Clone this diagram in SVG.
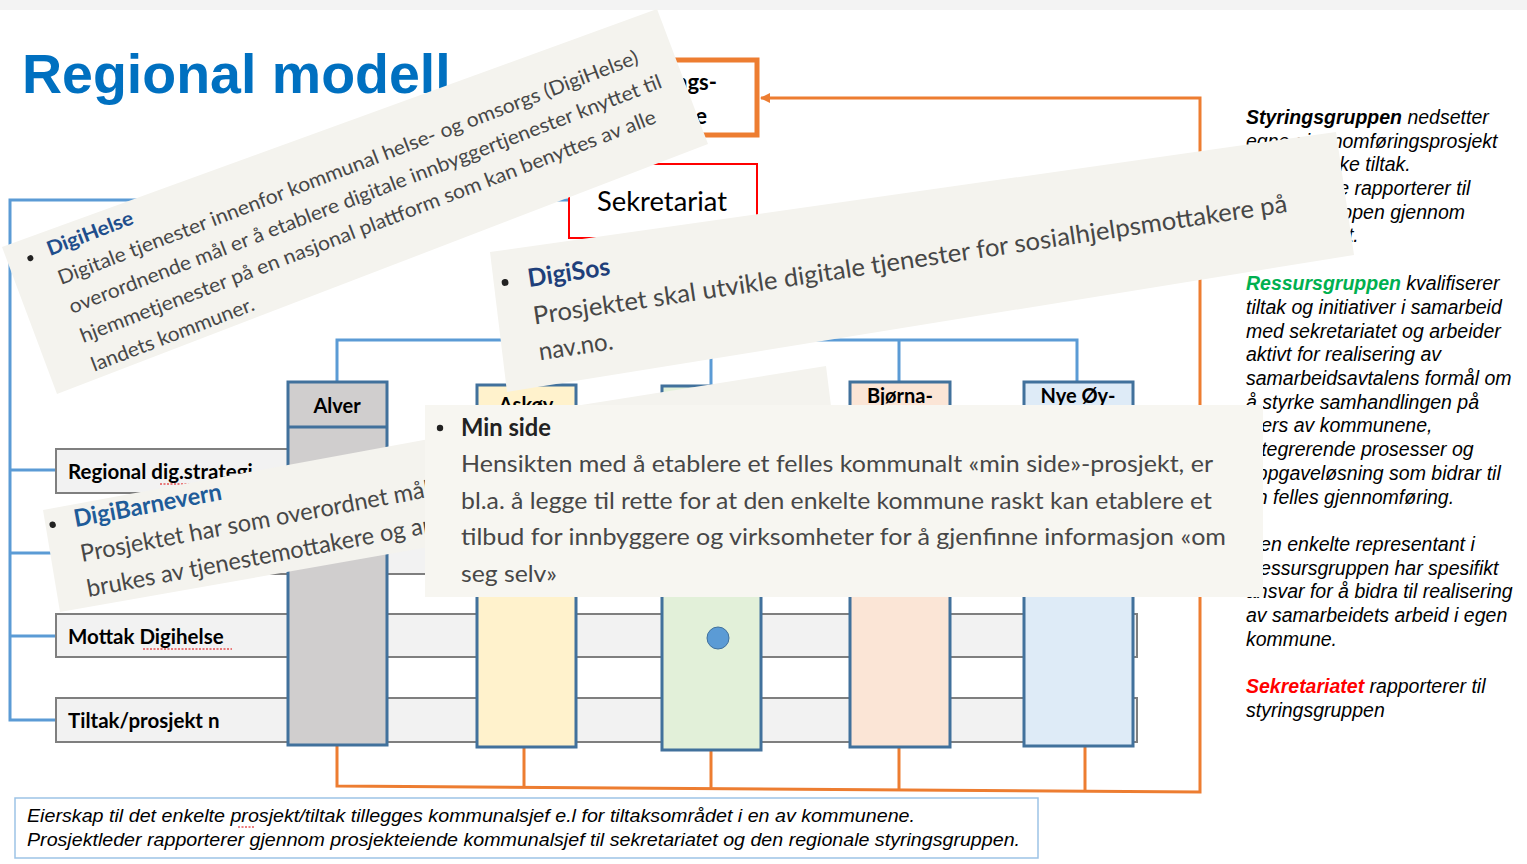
<svg xmlns="http://www.w3.org/2000/svg" width="1527" height="864" viewBox="0 0 1527 864">
<defs>
<style>
.lato{font-family:Lato,"Open Sans","DejaVu Sans",sans-serif}
.ar{font-family:"Liberation Sans",Arial,sans-serif}
.row{fill:#F2F2F2;stroke:#7F7F7F;stroke-width:2}
.col{stroke:#41719C;stroke-width:3}
.rowlbl{font-family:Lato,"Open Sans",sans-serif;font-weight:700;font-size:20.5px;fill:#000}
.collbl{font-family:Lato,"Open Sans",sans-serif;font-weight:700;font-size:20px;fill:#000;text-anchor:middle}
.blue{fill:none;stroke:#5B9BD5;stroke-width:3}
.orange{fill:none;stroke:#ED7D31;stroke-width:3}
.callout{fill:#F4F3EE}
.cbody{font-family:Lato,"Open Sans",sans-serif;fill:#474747}
.chead{font-family:Lato,"Open Sans",sans-serif;font-weight:700}
.rt{font-family:"Liberation Sans",Arial,sans-serif;font-style:italic;font-size:19.5px;fill:#000}
.sq{stroke:#E00000;stroke-width:1.2;stroke-dasharray:2 1.5;fill:none}
</style>
<marker id="arrowO" markerWidth="10" markerHeight="10" refX="9" refY="5" orient="auto" markerUnits="userSpaceOnUse">
<path d="M0,0 L10,5 L0,10 Z" fill="#ED7D31"/>
</marker>
<clipPath id="clipTop"><rect x="0" y="0" width="1527" height="405"/></clipPath>
</defs>
<rect x="0" y="0" width="1527" height="864" fill="#FFFFFF"/>
<rect x="0" y="0" width="1527" height="10" fill="#F3F3F3"/>

<text id="title" x="22" y="93" class="ar" font-weight="700" font-size="55.5" fill="#0070C0">Regional modell</text>

<g id="connectors">
<polyline class="blue" points="568,200 10,200 10,720 56,720"/>
<line class="blue" x1="10" y1="470" x2="56" y2="470"/>
<line class="blue" x1="10" y1="553" x2="56" y2="553"/>
<line class="blue" x1="10" y1="636" x2="56" y2="636"/>
<line class="blue" x1="662" y1="238" x2="662" y2="340"/>
<polyline class="blue" points="337,382 337,340 1077,340 1077,382"/>
<line class="blue" x1="524" y1="340" x2="524" y2="385"/>
<line class="blue" x1="711" y1="340" x2="711" y2="386"/>
<line class="blue" x1="899" y1="340" x2="899" y2="382"/>
<polyline class="orange" points="337,745 337,786 1200,792 1200,98 761,98" marker-end="url(#arrowO)"/>
<line class="orange" x1="524" y1="747" x2="524" y2="787"/>
<line class="orange" x1="711" y1="750" x2="711" y2="788"/>
<line class="orange" x1="899" y1="747" x2="899" y2="789"/>
<line class="orange" x1="1085" y1="746" x2="1085" y2="791"/>
</g>

<g id="styringsgruppe">
<rect x="582" y="60" width="175" height="75" fill="#FFFFFF" stroke="#ED7D31" stroke-width="5"/>
<text class="lato" font-weight="700" font-size="22" text-anchor="end" x="717" y="90">Styrings-</text>
<text class="lato" font-weight="700" font-size="22" text-anchor="end" x="707" y="124">gruppe</text>
</g>

<g id="sekretariat">
<rect x="569" y="164" width="188" height="74" fill="#FFFFFF" stroke="#FF0000" stroke-width="2"/>
<text class="lato" font-size="27" x="597" y="211" textLength="130" lengthAdjust="spacingAndGlyphs">Sekretariat</text>
</g>

<g id="row-regional">
<rect class="row" x="56" y="449" width="1081" height="44"/>
<text class="rowlbl" x="68" y="479">Regional dig.strategi</text>
<line class="sq" x1="160" y1="484" x2="196" y2="484"/>
</g>
<g id="row-2">
<rect class="row" x="56" y="532" width="1081" height="42"/>
</g>
<g id="row-mottak">
<rect class="row" x="56" y="614" width="1081" height="43"/>
<text class="rowlbl" x="68" y="644">Mottak Digihelse</text>
<line class="sq" x1="143" y1="649" x2="232" y2="649"/>
</g>
<g id="row-tiltak">
<rect class="row" x="56" y="698" width="1081" height="44"/>
<text class="rowlbl" x="68" y="728">Tiltak/prosjekt n</text>
</g>

<g id="col-alver">
<rect class="col" x="288" y="382" width="99" height="363" fill="#D0CECE"/>
<line class="col" x1="288" y1="427" x2="387" y2="427"/>
<text class="collbl" x="337" y="413">Alver</text>
</g>
<g id="col-askoy">
<rect class="col" x="477" y="385" width="99" height="362" fill="#FFF2CC"/>
<text class="collbl" x="526" y="412" clip-path="url(#clipTop)">Askøy</text>
</g>
<g id="col-green">
<rect class="col" x="662" y="386" width="99" height="364" fill="#E2F0D9"/>
<circle cx="718" cy="638" r="11" fill="#5B9BD5" stroke="#41719C" stroke-width="1"/>
</g>
<g id="col-bjorna">
<rect class="col" x="850" y="382" width="100" height="365" fill="#FBE5D6"/>
<text class="collbl" x="900" y="403">Bjørna-</text>
<line class="sq" x1="866" y1="406" x2="935" y2="406"/>
</g>
<g id="col-nyeoy">
<rect class="col" x="1024" y="382" width="109" height="364" fill="#DEEBF7"/>
<text class="collbl" x="1078" y="403">Nye Øy-</text>
</g>

<g id="right-text">
<text class="rt" x="1246" y="124"><tspan font-weight="700">Styringsgruppen</tspan> nedsetter</text>
<text class="rt" x="1246" y="148">egne gjennomføringsprosjekt</text>
<text class="rt" x="1246" y="171">for spesifikke tiltak.</text>
<text class="rt" x="1246" y="195">Prosjektene rapporterer til</text>
<text class="rt" x="1246" y="219">styringsgruppen gjennom</text>
<text class="rt" x="1246" y="242">sekretariatet.</text>
<text class="rt" x="1246" y="290"><tspan font-weight="700" fill="#00B050">Ressursgruppen</tspan> kvalifiserer</text>
<text class="rt" x="1246" y="314">tiltak og initiativer i samarbeid</text>
<text class="rt" x="1246" y="338">med sekretariatet og arbeider</text>
<text class="rt" x="1246" y="361">aktivt for realisering av</text>
<text class="rt" x="1246" y="385">samarbeidsavtalens formål om</text>
<text class="rt" x="1246" y="409">å styrke samhandlingen på</text>
<text class="rt" x="1246" y="432">tvers av kommunene,</text>
<text class="rt" x="1246" y="456">integrerende prosesser og</text>
<text class="rt" x="1246" y="480">oppgaveløsning som bidrar til</text>
<text class="rt" x="1246" y="504">en felles gjennomføring.</text>
<text class="rt" x="1246" y="551">Den enkelte representant i</text>
<text class="rt" x="1246" y="575">Ressursgruppen har spesifikt</text>
<text class="rt" x="1246" y="598">ansvar for å bidra til realisering</text>
<text class="rt" x="1246" y="622">av samarbeidets arbeid i egen</text>
<text class="rt" x="1246" y="646">kommune.</text>
<text class="rt" x="1246" y="693"><tspan font-weight="700" fill="#FF0000">Sekretariatet</tspan> rapporterer til</text>
<text class="rt" x="1246" y="717">styringsgruppen</text>
</g>

<g id="note">
<rect x="15" y="798" width="1023" height="60" fill="#FFFFFF" stroke="#9DC3E6" stroke-width="1.5"/>
<text class="ar" font-style="italic" font-size="19" x="27" y="822" textLength="888" lengthAdjust="spacingAndGlyphs">Eierskap til det enkelte prosjekt/tiltak tillegges kommunalsjef e.l for tiltaksområdet i en av kommunene.</text>
<text class="ar" font-style="italic" font-size="19" x="27" y="846" textLength="993" lengthAdjust="spacingAndGlyphs">Prosjektleder rapporterer gjennom prosjekteiende kommunalsjef til sekretariatet og den regionale styringsgruppen.</text>
<line class="sq" x1="238" y1="827" x2="254" y2="827"/>
</g>

<g id="callout-digibarnevern">
<polygon class="callout" points="43,510 440,437 440,545 60,612"/>
<g transform="translate(82,562) rotate(-10.6)">
<circle cx="-22" cy="-42" r="3.2" fill="#222"/>
<text class="chead" font-size="24" fill="#1F5C99" x="0" y="-35.5" textLength="150" lengthAdjust="spacingAndGlyphs">DigiBarnevern</text>
<text class="cbody" font-size="24" x="0" y="0" textLength="355" lengthAdjust="spacingAndGlyphs">Prosjektet har som overordnet mål</text>
<text class="cbody" font-size="24" x="0" y="35.5" textLength="388" lengthAdjust="spacingAndGlyphs">brukes av tjenestemottakere og andre</text>
</g>
</g>

<g id="callout-hidden">
<polygon class="callout" points="575,406 826,366 831,406"/>
</g>

<g id="callout-digisos">
<polygon class="callout" points="490,252 1336,132 1354,255 507,392"/>
<g transform="translate(529,287) rotate(-8.5)">
<circle cx="-23" cy="-8" r="3.4" fill="#222"/>
<text class="chead" font-size="25" fill="#1F3F7A" x="0" y="0" textLength="83" lengthAdjust="spacingAndGlyphs">DigiSos</text>
<text class="cbody" font-size="25" x="0" y="38" textLength="762" lengthAdjust="spacingAndGlyphs">Prosjektet skal utvikle digitale tjenester for sosialhjelpsmottakere på</text>
<text class="cbody" font-size="25" x="0" y="74" textLength="75" lengthAdjust="spacingAndGlyphs">nav.no.</text>
</g>
</g>

<g id="callout-digihelse">
<polygon class="callout" points="2,247 657,9 708,144 57,394"/>
<g transform="translate(61,285) rotate(-21)">
<circle cx="-19" cy="-36" r="3" fill="#222"/>
<text class="chead" font-size="20" fill="#1F4E8C" x="0" y="-31" textLength="91" lengthAdjust="spacingAndGlyphs">DigiHelse</text>
<text class="cbody" font-size="20" x="0" y="0" textLength="620" lengthAdjust="spacingAndGlyphs">Digitale tjenester innenfor kommunal helse- og omsorgs (DigiHelse)</text>
<text class="cbody" font-size="20" x="0" y="31" textLength="633" lengthAdjust="spacingAndGlyphs">overordnende mål er å etablere digitale innbyggertjenester knyttet til</text>
<text class="cbody" font-size="20" x="0" y="62" textLength="615" lengthAdjust="spacingAndGlyphs">hjemmetjenester på en nasjonal plattform som kan benyttes av alle</text>
<text class="cbody" font-size="20" x="0" y="93" textLength="173" lengthAdjust="spacingAndGlyphs">landets kommuner.</text>
</g>
</g>

<g id="callout-minside">
<rect x="425" y="405" width="838" height="192" fill="#F7F6F1"/>
<circle cx="440" cy="428" r="3.2" fill="#222"/>
<text class="chead" font-size="24" fill="#222" x="461" y="436" textLength="90" lengthAdjust="spacingAndGlyphs">Min side</text>
<text class="cbody" font-size="23" fill="#3A3A3A" x="461" y="472" textLength="752" lengthAdjust="spacingAndGlyphs">Hensikten med å etablere et felles kommunalt «min side»-prosjekt, er</text>
<text class="cbody" font-size="23" fill="#3A3A3A" x="461" y="508.5" textLength="751" lengthAdjust="spacingAndGlyphs">bl.a. å legge til rette for at den enkelte kommune raskt kan etablere et</text>
<text class="cbody" font-size="23" fill="#3A3A3A" x="461" y="545" textLength="765" lengthAdjust="spacingAndGlyphs">tilbud for innbyggere og virksomheter for å gjenfinne informasjon «om</text>
<text class="cbody" font-size="23" fill="#3A3A3A" x="461" y="581.5" textLength="96" lengthAdjust="spacingAndGlyphs">seg selv»</text>
</g>
</svg>
